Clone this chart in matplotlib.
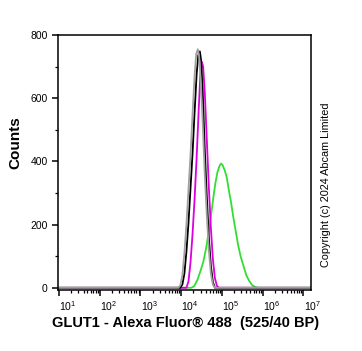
import numpy as np
import matplotlib
matplotlib.use("Agg")
import matplotlib.pyplot as plt
from matplotlib import transforms as mtrans
from matplotlib.ticker import FixedLocator, NullFormatter

plt.rcParams['font.family'] = ['Liberation Sans', 'DejaVu Sans']

# log10 fluorescence positions and counts
gray_log = [0.97, 3.93, 3.98, 4.03, 4.08, 4.13, 4.18, 4.23, 4.28, 4.33, 4.37, 4.41, 4.44, 4.48, 4.53, 4.58, 4.63, 4.68, 4.73, 4.78, 4.83, 7.2]
gray_cnt = [0, 0, 8, 40, 110, 200, 310, 420, 550, 670, 740, 755, 735, 660, 520, 360, 230, 120, 45, 10, 0, 0]

black_log = [0.97, 3.98, 4.03, 4.08, 4.13, 4.18, 4.23, 4.28, 4.33, 4.38, 4.42, 4.46, 4.49, 4.53, 4.58, 4.63, 4.68, 4.73, 4.78, 4.83, 7.2]
black_cnt = [0, 0, 10, 45, 115, 205, 315, 425, 555, 675, 735, 748, 720, 620, 440, 290, 160, 70, 18, 0, 0]

magenta_log = [0.97, 4.13, 4.18, 4.23, 4.28, 4.33, 4.38, 4.43, 4.47, 4.51, 4.54, 4.58, 4.63, 4.68, 4.73, 4.78, 4.83, 4.88, 4.93, 7.2]
magenta_cnt = [0, 0, 20, 80, 170, 280, 410, 560, 670, 715, 700, 620, 470, 320, 190, 90, 30, 6, 0, 0]

green_log = [0.97, 4.25, 4.32, 4.40, 4.48, 4.55, 4.62, 4.68, 4.73, 4.79, 4.84, 4.89, 4.94, 4.98, 5.02, 5.07, 5.12,
             5.17, 5.22, 5.28, 5.34, 5.40, 5.46, 5.53, 5.60, 5.67, 5.74, 5.82, 5.90, 7.2]
green_cnt = [0, 0, 5, 25, 55, 85, 130, 180, 225, 285, 330, 365, 385, 393, 388, 372, 350,
             310, 275, 225, 180, 135, 100, 70, 40, 22, 9, 2, 0, 0]

y_ticks = [0, 200, 400, 600, 800]
x_decades = [1, 2, 3, 4, 5, 6, 7]

W, H = 362, 351
fig = plt.figure(figsize=(W / 100, H / 100), dpi=100)
ax = fig.add_axes([58 / W, 1 - 290 / H, (311 - 58) / W, (290 - 35) / H])

lw = 1.3
ax.plot(10 ** np.array(green_log), green_cnt, color='#33dd33', lw=lw)
ax.plot(10 ** np.array(magenta_log), magenta_cnt, color='#dd00dd', lw=lw)
ax.plot(10 ** np.array(black_log), black_cnt, color='black', lw=lw)
ax.plot(10 ** np.array(gray_log), gray_cnt, color='#a0a0a0', lw=lw)

ax.set_xscale('log')
ax.set_xlim(10 ** 0.975, 10 ** 7.19)
ax.set_ylim(-7, 800)

for s in ax.spines.values():
    s.set_linewidth(1.1)

ax.yaxis.set_major_locator(FixedLocator(y_ticks))
ax.yaxis.set_minor_locator(FixedLocator(np.arange(0, 801, 100)))
ax.set_yticklabels([str(v) for v in y_ticks])
ax.xaxis.set_major_locator(FixedLocator([10.0 ** d for d in x_decades]))
minors = [m * 10.0 ** d for d in range(1, 7) for m in range(2, 10)]
ax.xaxis.set_minor_locator(FixedLocator(minors))
ax.xaxis.set_minor_formatter(NullFormatter())
ax.set_xticklabels([r'$\mathregular{10^{%d}}$' % d for d in x_decades])

ax.tick_params(axis='both', which='major', direction='out', length=4.5, width=1.1, labelsize=7.5, pad=2)
ax.tick_params(axis='both', which='minor', direction='out', length=2.5, width=0.9)
ax.tick_params(axis='y', pad=3)

offset = mtrans.ScaledTranslation(9 / 100, 0, fig.dpi_scale_trans)
for lab in ax.get_xticklabels():
    lab.set_transform(lab.get_transform() + offset)

fig.text(15 / W, 1 - 143 / H, 'Counts', rotation=90, ha='center', va='center',
         fontsize=11, fontweight='bold')
fig.text(186 / W, 1 - 323 / H, 'GLUT1 - Alexa Fluor® 488  (525/40 BP)', ha='center', va='center',
         fontsize=10.5, fontweight='bold')
fig.text(326 / W, 1 - 185 / H, 'Copyright (c) 2024 Abcam Limited', rotation=90, ha='center', va='center',
         fontsize=7.8)

fig.savefig('out.png', dpi=100)
